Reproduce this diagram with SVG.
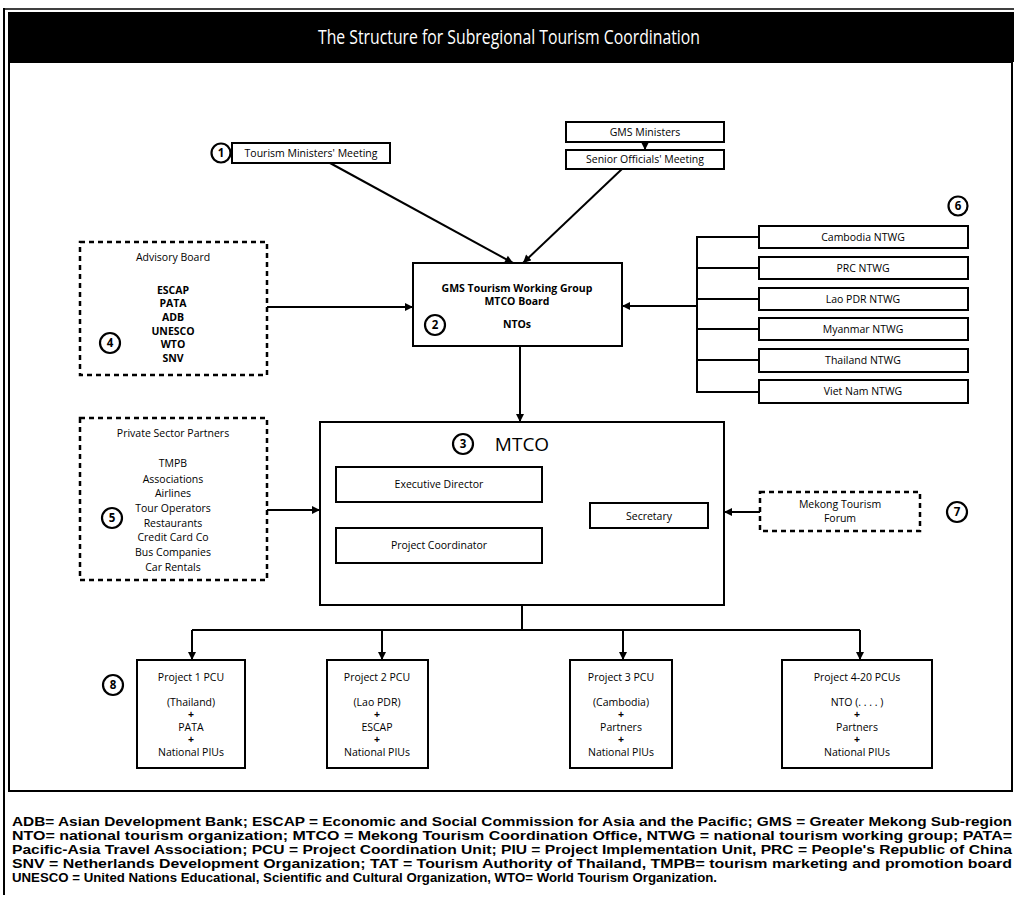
<svg xmlns="http://www.w3.org/2000/svg" width="1018" height="902" viewBox="0 0 1018 902">
<style>
.box{fill:#fff;stroke:#000;stroke-width:2}
.dash{fill:#fff;stroke:#000;stroke-width:2.5;stroke-dasharray:5 4}
.ln{fill:none;stroke:#000;stroke-width:2}
.t{font-family:"Open Sans","Liberation Sans",sans-serif;font-size:10.5px;fill:#000;text-anchor:middle}
.b{font-weight:bold}
.c{fill:#fff;stroke:#000;stroke-width:2.2}
.n{font-family:"Open Sans","Liberation Sans",sans-serif;font-size:11.5px;font-weight:bold;text-anchor:middle}
.fn{font-family:"Liberation Sans",sans-serif;font-size:13px;font-weight:bold;fill:#000}
</style>
<defs>
<marker id="ah" viewBox="0 0 10 10" refX="10" refY="5" markerWidth="9" markerHeight="8" markerUnits="userSpaceOnUse" orient="auto">
<path d="M0,0 L10,5 L0,10 z" fill="#000"/>
</marker>
</defs>
<rect width="1018" height="902" fill="#fff"/>
<g id="frame">
<line x1="4" y1="8" x2="4" y2="895" stroke="#000" stroke-width="2"/>
<line x1="4" y1="9" x2="1014" y2="9" stroke="#000" stroke-width="1.5"/>
<rect x="8" y="12" width="1006" height="50" fill="#000"/>
<rect x="9" y="62" width="1003" height="729" fill="none" stroke="#000" stroke-width="2"/>
<text x="509" y="44" font-family="'Open Sans','Liberation Sans',sans-serif" font-size="20" fill="#fff" text-anchor="middle" textLength="382" lengthAdjust="spacingAndGlyphs">The Structure for Subregional Tourism Coordination</text>
</g>
<g id="connectors">
<line class="ln" x1="330" y1="163" x2="513" y2="263" marker-end="url(#ah)"/>
<line class="ln" x1="622" y1="169" x2="523" y2="263" marker-end="url(#ah)"/>
<line class="ln" x1="645" y1="142" x2="645" y2="150" marker-end="url(#ah)"/>
<line class="ln" x1="267" y1="307" x2="413" y2="307" marker-end="url(#ah)"/>
<line class="ln" x1="697" y1="306" x2="622" y2="306" marker-end="url(#ah)"/>
<path class="ln" d="M759,237 H697 V392 H759 M697,268 H759 M697,299 H759 M697,329 H759 M697,360 H759"/>
<line class="ln" x1="520" y1="346" x2="520" y2="422" marker-end="url(#ah)"/>
<line class="ln" x1="267" y1="510" x2="320" y2="510" marker-end="url(#ah)"/>
<line class="ln" x1="760" y1="512" x2="724" y2="512" marker-end="url(#ah)"/>
<line class="ln" x1="440" y1="502" x2="440" y2="528" marker-end="url(#ah)"/>
<line class="ln" x1="445" y1="527" x2="590" y2="516" marker-end="url(#ah)"/>
<path class="ln" d="M522,605 V630 M192,630 H860"/>
<line class="ln" x1="192" y1="630" x2="192" y2="660" marker-end="url(#ah)"/>
<line class="ln" x1="382" y1="630" x2="382" y2="660" marker-end="url(#ah)"/>
<line class="ln" x1="623" y1="630" x2="623" y2="660" marker-end="url(#ah)"/>
<line class="ln" x1="860" y1="630" x2="860" y2="660" marker-end="url(#ah)"/>
</g>
<g id="tourism-ministers">
<circle class="c" cx="221" cy="153" r="9.5"/><text class="n" x="221" y="157">1</text>
<rect class="box" x="232" y="143" width="158" height="20"/>
<text class="t" x="311" y="157">Tourism Ministers' Meeting</text>
</g>
<g id="gms-ministers">
<rect class="box" x="566" y="122" width="158" height="20"/>
<text class="t" x="645" y="136">GMS Ministers</text>
</g>
<g id="senior-officials">
<rect class="box" x="566" y="150" width="158" height="19"/>
<text class="t" x="645" y="163">Senior Officials' Meeting</text>
</g>
<g id="advisory-board">
<rect class="dash" x="80" y="242" width="187" height="133"/>
<text class="t" font-size="11" x="173" y="261">Advisory Board</text>
<text class="t b" font-size="12.5" x="173" y="294">ESCAP</text>
<text class="t b" font-size="12.5" x="173" y="307">PATA</text>
<text class="t b" font-size="12.5" x="173" y="321">ADB</text>
<text class="t b" font-size="12.5" x="173" y="335">UNESCO</text>
<text class="t b" font-size="12.5" x="173" y="348">WTO</text>
<text class="t b" font-size="12.5" x="173" y="362">SNV</text>
<circle class="c" cx="110" cy="343" r="10"/><text class="n" x="110" y="347">4</text>
</g>
<g id="working-group">
<rect class="box" x="413" y="263" width="209" height="83"/>
<text class="t b" font-size="11.5" x="517" y="292">GMS Tourism Working Group</text>
<text class="t b" font-size="11.5" x="517" y="305">MTCO Board</text>
<text class="t b" font-size="11.5" x="517" y="328">NTOs</text>
<circle class="c" cx="435" cy="325" r="10"/><text class="n" x="435" y="329">2</text>
</g>
<g id="ntwg">
<circle class="c" cx="958" cy="206" r="9.5"/><text class="n" x="958" y="210">6</text>
<rect class="box" x="759" y="226" width="209" height="22"/><text class="t" font-size="11" x="863" y="241">Cambodia NTWG</text>
<rect class="box" x="759" y="257" width="209" height="22"/><text class="t" font-size="11" x="863" y="272">PRC NTWG</text>
<rect class="box" x="759" y="288" width="209" height="22"/><text class="t" font-size="11" x="863" y="303">Lao PDR NTWG</text>
<rect class="box" x="759" y="318" width="209" height="22"/><text class="t" font-size="11" x="863" y="333">Myanmar NTWG</text>
<rect class="box" x="759" y="349" width="209" height="23"/><text class="t" font-size="11" x="863" y="364">Thailand NTWG</text>
<rect class="box" x="759" y="380" width="209" height="23"/><text class="t" font-size="11" x="863" y="395">Viet Nam NTWG</text>
</g>
<g id="private-sector">
<rect class="dash" x="80" y="418" width="187" height="162"/>
<text class="t" font-size="11" x="173" y="437">Private Sector Partners</text>
<text class="t" font-size="11" x="173" y="467">TMPB</text>
<text class="t" font-size="11" x="173" y="483">Associations</text>
<text class="t" font-size="11" x="173" y="497">Airlines</text>
<text class="t" font-size="11" x="173" y="512">Tour Operators</text>
<text class="t" font-size="11" x="173" y="527">Restaurants</text>
<text class="t" font-size="11" x="173" y="541">Credit Card Co</text>
<text class="t" font-size="11" x="173" y="556">Bus Companies</text>
<text class="t" font-size="11" x="173" y="571">Car Rentals</text>
<circle class="c" cx="112" cy="518" r="10"/><text class="n" x="112" y="522">5</text>
</g>
<g id="mtco">
<rect class="box" x="320" y="422" width="404" height="183"/>
<circle class="c" cx="463" cy="444" r="10"/><text class="n" x="463" y="448">3</text>
<text x="522" y="451" font-family="'Open Sans','Liberation Sans',sans-serif" font-size="19" text-anchor="middle">MTCO</text>
</g>
<g id="executive-director">
<rect class="box" x="336" y="467" width="206" height="35"/>
<text class="t" font-size="11" x="439" y="488">Executive Director</text>
</g>
<g id="project-coordinator">
<rect class="box" x="336" y="528" width="206" height="35"/>
<text class="t" font-size="11" x="439" y="549">Project Coordinator</text>
</g>
<g id="secretary">
<rect class="box" x="590" y="503" width="118" height="25"/>
<text class="t" font-size="11" x="649" y="520">Secretary</text>
</g>
<g id="mekong-forum">
<rect class="dash" x="760" y="492" width="160" height="39"/>
<text class="t" font-size="11" x="840" y="508">Mekong Tourism</text>
<text class="t" font-size="11" x="840" y="522">Forum</text>
<circle class="c" cx="957" cy="512" r="10"/><text class="n" x="957" y="516">7</text>
</g>
<g id="project1">
<circle class="c" cx="113" cy="685" r="10"/><text class="n" x="113" y="689">8</text>
<rect class="box" x="137" y="660" width="108" height="108"/>
<text class="t" font-size="11.5" x="191" y="681">Project 1 PCU</text>
<text class="t" x="191" y="706">(Thailand)</text>
<text class="t b" font-size="9" x="191" y="718">+</text>
<text class="t" x="191" y="731">PATA</text>
<text class="t b" font-size="9" x="191" y="743">+</text>
<text class="t" x="191" y="756">National PIUs</text>
</g>
<g id="project2">
<rect class="box" x="327" y="660" width="101" height="108"/>
<text class="t" font-size="11.5" x="377" y="681">Project 2 PCU</text>
<text class="t" x="377" y="706">(Lao PDR)</text>
<text class="t b" font-size="9" x="377" y="718">+</text>
<text class="t" x="377" y="731">ESCAP</text>
<text class="t b" font-size="9" x="377" y="743">+</text>
<text class="t" x="377" y="756">National PIUs</text>
</g>
<g id="project3">
<rect class="box" x="570" y="660" width="102" height="108"/>
<text class="t" font-size="11.5" x="621" y="681">Project 3 PCU</text>
<text class="t" x="621" y="706">(Cambodia)</text>
<text class="t b" font-size="9" x="621" y="718">+</text>
<text class="t" x="621" y="731">Partners</text>
<text class="t b" font-size="9" x="621" y="743">+</text>
<text class="t" x="621" y="756">National PIUs</text>
</g>
<g id="project4">
<rect class="box" x="782" y="660" width="150" height="108"/>
<text class="t" font-size="11.5" x="857" y="681">Project 4-20 PCUs</text>
<text class="t" x="857" y="706">NTO (. . . . )</text>
<text class="t b" font-size="9" x="857" y="718">+</text>
<text class="t" x="857" y="731">Partners</text>
<text class="t b" font-size="9" x="857" y="743">+</text>
<text class="t" x="857" y="756">National PIUs</text>
</g>
<g id="footnote">
<text class="fn" x="12" y="826" textLength="1000" lengthAdjust="spacingAndGlyphs">ADB= Asian Development Bank; ESCAP = Economic and Social Commission for Asia and the Pacific; GMS = Greater Mekong Sub-region</text>
<text class="fn" x="12" y="840" textLength="1000" lengthAdjust="spacingAndGlyphs">NTO= national tourism organization; MTCO = Mekong Tourism Coordination Office, NTWG = national tourism working group; PATA=</text>
<text class="fn" x="12" y="854" textLength="1000" lengthAdjust="spacingAndGlyphs">Pacific-Asia Travel Association; PCU = Project Coordination Unit; PIU = Project Implementation Unit, PRC = People's Republic of China</text>
<text class="fn" x="12" y="868" textLength="1000" lengthAdjust="spacingAndGlyphs">SNV = Netherlands Development Organization; TAT = Tourism Authority of Thailand, TMPB= tourism marketing and promotion board</text>
<text class="fn" x="12" y="882" textLength="705" lengthAdjust="spacingAndGlyphs">UNESCO = United Nations Educational, Scientific and Cultural Organization, WTO= World Tourism Organization.</text>
</g>
</svg>
